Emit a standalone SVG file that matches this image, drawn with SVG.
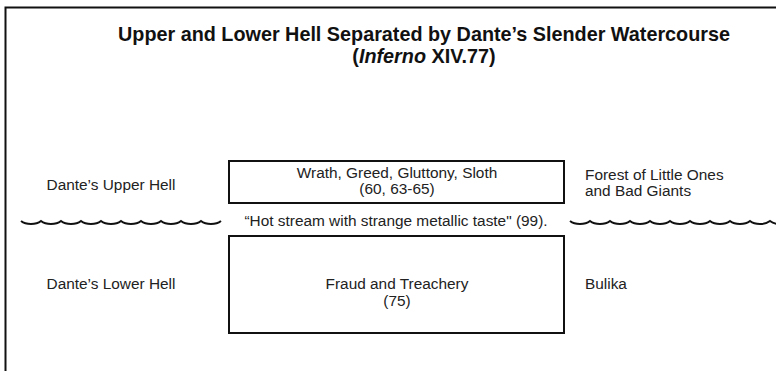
<svg xmlns="http://www.w3.org/2000/svg" width="776" height="371" viewBox="0 0 776 371">
<style>
.t{font-family:"Liberation Sans",Arial,sans-serif;font-size:15.4px;fill:#222;}
.title{font-family:"Liberation Sans",Arial,sans-serif;font-size:19.8px;font-weight:bold;fill:#111;}
.box{fill:#fff;stroke:#111;stroke-width:2;}
.wave{fill:none;stroke:#111;stroke-width:2;}
</style>
<rect width="776" height="371" fill="#fff"/>
<path d="M5.5,371 V7.5 H776" fill="none" stroke="#111" stroke-width="2"/>
<g id="title">
<text class="title" x="424" y="41" text-anchor="middle">Upper and Lower Hell Separated by Dante’s Slender Watercourse</text>
<text class="title" x="424" y="63" text-anchor="middle">(<tspan font-style="italic">Inferno</tspan> XIV.77)</text>
</g>
<g id="upper-box">
<rect class="box" x="229" y="161" width="335" height="42"/>
<text class="t" x="397" y="178" text-anchor="middle">Wrath, Greed, Gluttony, Sloth</text>
<text class="t" x="397" y="194" text-anchor="middle">(60, 63-65)</text>
</g>
<g id="lower-box">
<rect class="box" x="229" y="236" width="335" height="97"/>
<text class="t" x="397" y="289" text-anchor="middle">Fraud and Treachery</text>
<text class="t" x="397" y="306" text-anchor="middle">(75)</text>
</g>
<g id="labels">
<text class="t" x="111" y="190" text-anchor="middle">Dante’s Upper Hell</text>
<text class="t" x="111" y="289" text-anchor="middle">Dante’s Lower Hell</text>
<text class="t" x="585" y="180">Forest of Little Ones</text>
<text class="t" x="585" y="196">and Bad Giants</text>
<text class="t" x="585" y="289">Bulika</text>
</g>
<g id="connectors">
<path class="wave" d="M21,221 c5,4 15,4 20,0 c5,4 15,4 20,0 c5,4 15,4 20,0 c5,4 15,4 20,0 c5,4 15,4 20,0 c5,4 15,4 20,0 c5,4 15,4 20,0 c5,4 15,4 20,0 c5,4 15,4 20,0 c5,4 15,4 20,0"/>
<path class="wave" d="M570,221 c5,4 15,4 20,0 c5,4 15,4 20,0 c5,4 15,4 20,0 c5,4 15,4 20,0 c5,4 15,4 20,0 c5,4 15,4 20,0 c5,4 15,4 20,0 c5,4 15,4 20,0 c5,4 15,4 20,0 c5,4 15,4 20,0 c5,4 15,4 20,0"/>
<text class="t" x="396" y="226" text-anchor="middle">“Hot stream with strange metallic taste" (99).</text>
</g>
</svg>
